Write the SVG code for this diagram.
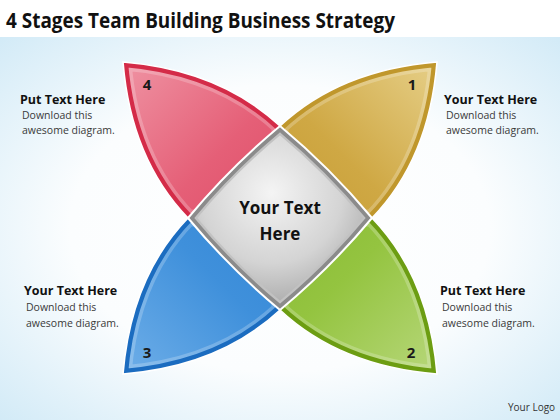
<svg xmlns="http://www.w3.org/2000/svg" xmlns:xlink="http://www.w3.org/1999/xlink" width="560" height="420" viewBox="0 0 560 420">
<style>
.title{font-family:"Open Sans","Liberation Sans",sans-serif;font-weight:bold;font-size:22px;fill:#111}
.head{font-family:"Open Sans","Liberation Sans",sans-serif;font-weight:bold;font-size:12.5px;fill:#111}
.body{font-family:"Open Sans","Liberation Sans",sans-serif;font-size:10.5px;fill:#3a3a3a}
.num{font-family:"Open Sans","Liberation Sans",sans-serif;font-weight:bold;font-size:15px;fill:#1a1a1a;text-anchor:middle}
.center{font-family:"Open Sans","Liberation Sans",sans-serif;font-weight:bold;font-size:17px;fill:#111;text-anchor:middle}
.logo{font-family:"Open Sans","Liberation Sans",sans-serif;font-size:10px;fill:#333}
.edge{fill:none;stroke:#fff;stroke-width:1.6}
.hl{fill:none;stroke:#fff;stroke-opacity:0.22;stroke-width:17}
</style>
<defs>
<radialGradient id="bg" cx="0.5" cy="0.5" r="0.75">
<stop offset="0" stop-color="#ffffff"/>
<stop offset="0.5" stop-color="#fbfdfe"/>
<stop offset="1" stop-color="#cde8f6"/>
</radialGradient>
<linearGradient id="gR" x1="0" y1="0" x2="1" y2="1">
<stop offset="0" stop-color="#ef93a3"/>
<stop offset="0.6" stop-color="#e55f77"/>
<stop offset="1" stop-color="#df4f69"/>
</linearGradient>
<linearGradient id="gY" x1="1" y1="0" x2="0" y2="1">
<stop offset="0" stop-color="#e6cf88"/>
<stop offset="0.6" stop-color="#cfa844"/>
<stop offset="1" stop-color="#c79d35"/>
</linearGradient>
<linearGradient id="gB" x1="0" y1="1" x2="1" y2="0">
<stop offset="0" stop-color="#6eaee8"/>
<stop offset="0.6" stop-color="#3f90db"/>
<stop offset="1" stop-color="#3487d6"/>
</linearGradient>
<linearGradient id="gG" x1="1" y1="1" x2="0" y2="0">
<stop offset="0" stop-color="#b7d77a"/>
<stop offset="0.6" stop-color="#94c440"/>
<stop offset="1" stop-color="#88bb34"/>
</linearGradient>
<radialGradient id="gC" cx="0.45" cy="0.35" r="0.7">
<stop offset="0" stop-color="#f4f4f4"/>
<stop offset="0.6" stop-color="#d4d4d4"/>
<stop offset="1" stop-color="#a8a8a8"/>
</radialGradient>
<path id="pR" d="M123,62 Q220,70 280,126 L280,218 L188,218 Q131,159 123,62 Z"/>
<path id="pY" d="M437,62 Q340,70 280,126 L280,218 L372,218 Q429,159 437,62 Z"/>
<path id="pB" d="M123,374 Q220,366 280,310 L280,218 L188,218 Q131,277 123,374 Z"/>
<path id="pG" d="M437,374 Q340,366 280,310 L280,218 L372,218 Q429,277 437,374 Z"/>
<path id="dia" d="M280,126 Q229.8,167.8 188,218 Q229.8,268.2 280,310 Q330.2,268.2 372,218 Q330.2,167.8 280,126 Z"/>
<clipPath id="cR"><use xlink:href="#pR"/></clipPath>
<clipPath id="cY"><use xlink:href="#pY"/></clipPath>
<clipPath id="cB"><use xlink:href="#pB"/></clipPath>
<clipPath id="cG"><use xlink:href="#pG"/></clipPath>
</defs>
<rect x="0" y="0" width="560" height="420" fill="#fff"/>
<rect x="0" y="37" width="560" height="383" fill="url(#bg)"/>
<text class="title" x="6" y="28" textLength="389" lengthAdjust="spacingAndGlyphs">4 Stages Team Building Business Strategy</text>
<g id="connectors"/>
<g id="stage4">
<use xlink:href="#pR" fill="url(#gR)"/>
<use xlink:href="#pR" class="hl" clip-path="url(#cR)"/>
<use xlink:href="#pR" fill="none" stroke="#d42b48" stroke-width="10" clip-path="url(#cR)"/>
<use xlink:href="#pR" class="edge"/>
<text class="num" x="147" y="90">4</text>
</g>
<g id="stage1">
<use xlink:href="#pY" fill="url(#gY)"/>
<use xlink:href="#pY" class="hl" clip-path="url(#cY)"/>
<use xlink:href="#pY" fill="none" stroke="#c0972c" stroke-width="10" clip-path="url(#cY)"/>
<use xlink:href="#pY" class="edge"/>
<text class="num" x="412" y="90">1</text>
</g>
<g id="stage3">
<use xlink:href="#pB" fill="url(#gB)"/>
<use xlink:href="#pB" class="hl" clip-path="url(#cB)"/>
<use xlink:href="#pB" fill="none" stroke="#1b6cc0" stroke-width="10" clip-path="url(#cB)"/>
<use xlink:href="#pB" class="edge"/>
<text class="num" x="147" y="358">3</text>
</g>
<g id="stage2">
<use xlink:href="#pG" fill="url(#gG)"/>
<use xlink:href="#pG" class="hl" clip-path="url(#cG)"/>
<use xlink:href="#pG" fill="none" stroke="#6c9d12" stroke-width="10" clip-path="url(#cG)"/>
<use xlink:href="#pG" class="edge"/>
<text class="num" x="411" y="358">2</text>
</g>
<g id="center">
<use xlink:href="#dia" fill="#8b8b8b" stroke="#fff" stroke-width="2"/>
<use xlink:href="#dia" fill="url(#gC)" stroke="#c2c2c2" stroke-width="2.5" transform="translate(280,218) scale(0.915) translate(-280,-218)"/>
<text class="center" x="280" y="214">Your Text</text>
<text class="center" x="280" y="240">Here</text>
</g>
<g id="label4">
<text class="head" x="20" y="104">Put Text Here</text>
<text class="body" x="22" y="119">Download this</text>
<text class="body" x="22" y="134">awesome diagram.</text>
</g>
<g id="label1">
<text class="head" x="444" y="104">Your Text Here</text>
<text class="body" x="446" y="119">Download this</text>
<text class="body" x="446" y="134">awesome diagram.</text>
</g>
<g id="label3">
<text class="head" x="24" y="295">Your Text Here</text>
<text class="body" x="26" y="311">Download this</text>
<text class="body" x="26" y="327">awesome diagram.</text>
</g>
<g id="label2">
<text class="head" x="440" y="295">Put Text Here</text>
<text class="body" x="442" y="311">Download this</text>
<text class="body" x="442" y="327">awesome diagram.</text>
</g>
<text class="logo" x="508" y="411">Your Logo</text>
</svg>
